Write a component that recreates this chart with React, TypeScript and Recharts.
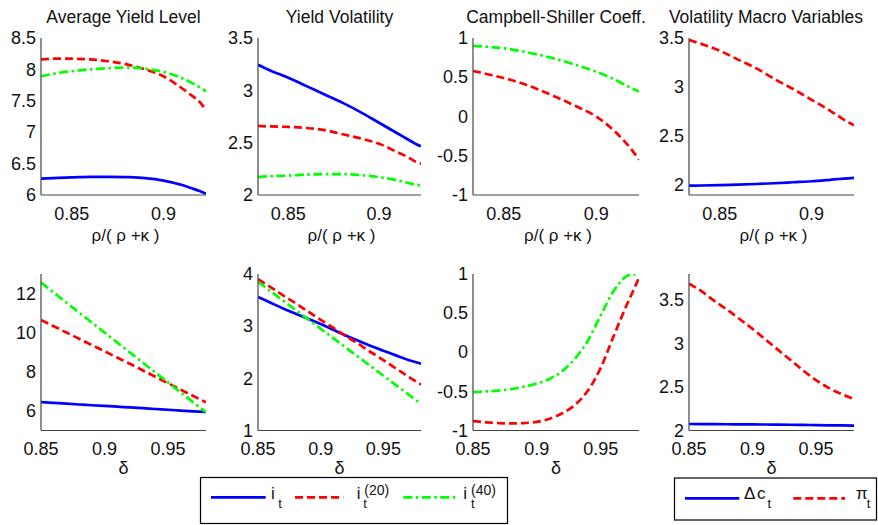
import React from 'react';
import { LineChart, Line, XAxis, YAxis } from 'recharts';

// ---------------- data ----------------
// top row: x = rho/(rho+kappa)
const rhoRatio = [0.8333, 0.84, 0.85, 0.86, 0.87, 0.88, 0.89, 0.9, 0.91, 0.915, 0.92, 0.9231];
const avgYieldI = [6.26, 6.27, 6.28, 6.29, 6.29, 6.285, 6.27, 6.23, 6.16, 6.11, 6.06, 6.02];
const avgYieldI20 = [8.16, 8.17, 8.17, 8.16, 8.13, 8.08, 8.0, 7.89, 7.7, 7.59, 7.47, 7.35];
const avgYieldI40 = [7.89, 7.93, 7.97, 8.0, 8.02, 8.03, 8.01, 7.96, 7.86, 7.79, 7.71, 7.65];
const volYieldI = [3.245, 3.19, 3.12, 3.04, 2.96, 2.88, 2.79, 2.69, 2.59, 2.54, 2.49, 2.465];
const volYieldI20 = [2.66, 2.655, 2.65, 2.64, 2.62, 2.58, 2.54, 2.49, 2.41, 2.37, 2.32, 2.3];
const volYieldI40 = [2.17, 2.18, 2.185, 2.195, 2.2, 2.2, 2.19, 2.17, 2.14, 2.12, 2.1, 2.09];
const csI20 = [0.58, 0.545, 0.49, 0.42, 0.33, 0.23, 0.12, 0.0, -0.19, -0.31, -0.45, -0.55];
const csI40 = [0.9, 0.89, 0.87, 0.83, 0.78, 0.72, 0.65, 0.57, 0.47, 0.41, 0.35, 0.32];
const macroDc = [1.995, 1.997, 2.0, 2.005, 2.012, 2.02, 2.03, 2.04, 2.055, 2.063, 2.07, 2.075];
const macroPi = [3.48, 3.44, 3.37, 3.28, 3.19, 3.08, 2.98, 2.87, 2.76, 2.7, 2.64, 2.61];

// bottom row: x = delta
const delta = [0.85, 0.86, 0.87, 0.88, 0.89, 0.9, 0.91, 0.92, 0.93, 0.94, 0.95, 0.96, 0.97, 0.98];
const avgYieldDI = [6.45, 6.41, 6.37, 6.33, 6.29, 6.26, 6.22, 6.18, 6.14, 6.1, 6.06, 6.02, 5.98, 5.95];
const avgYieldDI20 = [10.65, 10.33, 10.01, 9.69, 9.37, 9.05, 8.73, 8.41, 8.08, 7.75, 7.42, 7.09, 6.76, 6.44];
const avgYieldDI40 = [12.56, 12.05, 11.54, 11.03, 10.52, 10.01, 9.5, 8.99, 8.48, 7.97, 7.46, 6.95, 6.44, 5.93];
const volYieldDI = [3.56, 3.45, 3.34, 3.24, 3.14, 3.04, 2.93, 2.82, 2.72, 2.62, 2.53, 2.44, 2.35, 2.28];
const volYieldDI20 = [3.9, 3.75, 3.59, 3.44, 3.28, 3.12, 2.97, 2.81, 2.66, 2.5, 2.35, 2.19, 2.03, 1.88];
const volYieldDI40 = [3.85, 3.67, 3.49, 3.31, 3.13, 2.95, 2.77, 2.59, 2.41, 2.23, 2.05, 1.87, 1.69, 1.51];
const deltaCS = [0.85, 0.86, 0.87, 0.88, 0.89, 0.9, 0.91, 0.92, 0.93, 0.94, 0.95, 0.96, 0.97, 0.975, 0.98];
const csDI20 = [-0.88, -0.895, -0.905, -0.91, -0.905, -0.89, -0.85, -0.78, -0.67, -0.49, -0.2, 0.2, 0.59, 0.77, 0.95];
const csDI40 = [-0.51, -0.5, -0.49, -0.47, -0.44, -0.4, -0.34, -0.24, -0.08, 0.15, 0.47, 0.78, 0.97, 1.0, 0.985];
const macroDDc = [2.075, 2.074, 2.073, 2.072, 2.071, 2.07, 2.069, 2.067, 2.066, 2.064, 2.062, 2.06, 2.058, 2.057];
const macroDPi = [3.69, 3.6, 3.49, 3.39, 3.28, 3.17, 3.05, 2.93, 2.81, 2.69, 2.58, 2.49, 2.42, 2.36];

// axis ticks
const rhoTicks = [0.85, 0.9];
const deltaTicks = [0.85, 0.9, 0.95];
const titles = ['Average Yield Level', 'Yield Volatility', 'Campbell-Shiller Coeff.', 'Volatility Macro Variables'];
const rhoLabel = 'ρ/( ρ +κ )';
const deltaLabel = 'δ';

// ---------------- styling ----------------
const FONT = '"Liberation Sans", Arial, Helvetica, sans-serif';
const BLUE = '#0000ff';
const RED = '#ff0000';
const GREEN = '#00ff00';
const DASH = '8 4';
const DASHDOT = '9 3.5 2.5 3.5';
const AXIS = '#444';
const TICK_FS = 18;

const STYLE: Record<string, { color: string; dash?: string }> = {
  i: { color: BLUE },
  i20: { color: RED, dash: DASH },
  i40: { color: GREEN, dash: DASHDOT },
  dc: { color: BLUE },
  pi: { color: RED, dash: DASH },
};

function table(xs: number[], cols: Record<string, number[]>) {
  return xs.map((x, k) => {
    const row: Record<string, number> = { x };
    Object.keys(cols).forEach((key) => {
      row[key] = cols[key][k];
    });
    return row;
  });
}

const COLS = [
  [41, 206],
  [258, 421],
  [473, 639],
  [689, 854],
];
const ROWS = [
  [37.5, 194.5],
  [273.5, 430],
];

type PanelCfg = {
  col: number;
  row: number;
  data: Record<string, number>[];
  keys: string[];
  xDomain: [number, number];
  xTicks: number[];
  yDomain: [number, number];
  yTicks: number[];
};

const panels: PanelCfg[] = [
  { col: 0, row: 0, data: table(rhoRatio, { i: avgYieldI, i20: avgYieldI20, i40: avgYieldI40 }), keys: ['i', 'i20', 'i40'], xDomain: [0.8333, 0.9231], xTicks: rhoTicks, yDomain: [6, 8.5], yTicks: [6, 6.5, 7, 7.5, 8, 8.5] },
  { col: 1, row: 0, data: table(rhoRatio, { i: volYieldI, i20: volYieldI20, i40: volYieldI40 }), keys: ['i', 'i20', 'i40'], xDomain: [0.8333, 0.9231], xTicks: rhoTicks, yDomain: [2, 3.5], yTicks: [2, 2.5, 3, 3.5] },
  { col: 2, row: 0, data: table(rhoRatio, { i20: csI20, i40: csI40 }), keys: ['i20', 'i40'], xDomain: [0.8333, 0.9231], xTicks: rhoTicks, yDomain: [-1, 1], yTicks: [-1, -0.5, 0, 0.5, 1] },
  { col: 3, row: 0, data: table(rhoRatio, { dc: macroDc, pi: macroPi }), keys: ['dc', 'pi'], xDomain: [0.8333, 0.9231], xTicks: rhoTicks, yDomain: [1.9, 3.5], yTicks: [2, 2.5, 3, 3.5] },
  { col: 0, row: 1, data: table(delta, { i: avgYieldDI, i20: avgYieldDI20, i40: avgYieldDI40 }), keys: ['i', 'i20', 'i40'], xDomain: [0.85, 0.98], xTicks: deltaTicks, yDomain: [5, 13], yTicks: [6, 8, 10, 12] },
  { col: 1, row: 1, data: table(delta, { i: volYieldDI, i20: volYieldDI20, i40: volYieldDI40 }), keys: ['i', 'i20', 'i40'], xDomain: [0.85, 0.98], xTicks: deltaTicks, yDomain: [1, 4], yTicks: [1, 2, 3, 4] },
  { col: 2, row: 1, data: table(deltaCS, { i20: csDI20, i40: csDI40 }), keys: ['i20', 'i40'], xDomain: [0.85, 0.98], xTicks: deltaTicks, yDomain: [-1, 1], yTicks: [-1, -0.5, 0, 0.5, 1] },
  { col: 3, row: 1, data: table(delta, { dc: macroDDc, pi: macroDPi }), keys: ['dc', 'pi'], xDomain: [0.85, 0.98], xTicks: deltaTicks, yDomain: [2, 3.8], yTicks: [2, 2.5, 3, 3.5] },
];

const YW = 45;
const MT = 12;
const MR = 12;
const XH = 30;
const MB = 4;

function XTick(props: any) {
  const { x, payload, plotBottom } = props;
  return (
    <text x={x} y={plotBottom + 24.5} textAnchor="middle" fontSize={TICK_FS} fontFamily={FONT} fill="#111">
      {String(payload.value)}
    </text>
  );
}

function YTick(props: any) {
  const { y, payload, plotLeft } = props;
  return (
    <text x={plotLeft - 5} y={y + 6.2} textAnchor="end" fontSize={TICK_FS} fontFamily={FONT} fill="#111">
      {String(payload.value)}
    </text>
  );
}

function Panel({ cfg }: { cfg: PanelCfg }) {
  const [l, r] = COLS[cfg.col];
  const [t, b] = ROWS[cfg.row];
  const left = l - YW;
  const top = t - MT;
  const width = r - left + MR;
  const height = b - t + MT + XH + MB;
  const plotBottom = b - t + MT;
  return (
    <div style={{ position: 'absolute', left, top, width, height }}>
      <LineChart width={width} height={height} data={cfg.data} margin={{ top: MT, right: MR, bottom: MB, left: 0 }}>
        <XAxis
          type="number"
          dataKey="x"
          domain={cfg.xDomain}
          ticks={cfg.xTicks}
          interval={0}
          allowDataOverflow
          height={XH}
          tickLine={false}
          axisLine={{ stroke: AXIS, strokeWidth: 1.2 }}
          tick={(p: any) => <XTick {...p} plotBottom={plotBottom} />}
        />
        <YAxis
          type="number"
          domain={cfg.yDomain}
          ticks={cfg.yTicks}
          interval={0}
          allowDataOverflow
          width={YW}
          tickLine={false}
          axisLine={{ stroke: AXIS, strokeWidth: 1.2 }}
          tick={(p: any) => <YTick {...p} plotLeft={YW} />}
        />
        {cfg.keys.map((k) => (
          <Line
            key={k}
            dataKey={k}
            type="monotone"
            stroke={STYLE[k].color}
            strokeDasharray={STYLE[k].dash}
            strokeWidth={2.7}
            dot={false}
            isAnimationActive={false}
          />
        ))}
      </LineChart>
    </div>
  );
}

function Overlay() {
  const tf = { fontFamily: FONT, fill: '#111' } as const;
  return (
    <svg width={878} height={525} style={{ position: 'absolute', left: 0, top: 0, pointerEvents: 'none' }}>
      {titles.map((tt, c) => {
        const cx = c === 3 ? 766 : (COLS[c][0] + COLS[c][1]) / 2;
        return (
          <text key={tt} x={cx} y={23.3} textAnchor="middle" fontSize={17.5} {...tf}>
            {tt}
          </text>
        );
      })}
      {COLS.map((cc, c) => (
        <text key={'xl' + c} x={(cc[0] + cc[1]) / 2 + 2} y={241.4} textAnchor="middle" fontSize={17} {...tf}>
          {rhoLabel}
        </text>
      ))}
      {COLS.map((cc, c) => (
        <text key={'xd' + c} x={(cc[0] + cc[1]) / 2} y={474} textAnchor="middle" fontSize={18} {...tf}>
          {deltaLabel}
        </text>
      ))}

      {/* legend 1 */}
      <rect x={200.5} y={477.5} width={307} height={46} fill="#fff" stroke="#000" strokeWidth={1.2} />
      <line x1={211} x2={265.7} y1={497.3} y2={497.3} stroke={BLUE} strokeWidth={2.7} />
      <text x={271} y={499.3} fontSize={17} {...tf}>i</text>
      <text x={278.3} y={508.3} fontSize={13} {...tf}>t</text>
      <line x1={295} x2={343.3} y1={497.3} y2={497.3} stroke={RED} strokeWidth={2.7} strokeDasharray={DASH} />
      <text x={356.7} y={499.3} fontSize={17} {...tf}>i</text>
      <text x={363.3} y={508.3} fontSize={13} {...tf}>t</text>
      <text x={364.3} y={495} fontSize={14} {...tf}>(20)</text>
      <line x1={403.3} x2={458.3} y1={497.3} y2={497.3} stroke={GREEN} strokeWidth={2.7} strokeDasharray={DASHDOT} />
      <text x={463.3} y={499.3} fontSize={17} {...tf}>i</text>
      <text x={471} y={508.3} fontSize={13} {...tf}>t</text>
      <text x={471} y={495} fontSize={14} {...tf}>(40)</text>

      {/* legend 2 */}
      <rect x={674.5} y={478} width={202} height={42} fill="#fff" stroke="#000" strokeWidth={1.2} />
      <line x1={685} x2={739.3} y1={498.3} y2={498.3} stroke={BLUE} strokeWidth={2.7} />
      <text x={744} y={499.3} fontSize={17} {...tf}>Δ</text>
      <text x={757} y={499.3} fontSize={17} {...tf}>c</text>
      <text x={767.5} y={508.3} fontSize={13} {...tf}>t</text>
      <line x1={793.3} x2={845} y1={498.3} y2={498.3} stroke={RED} strokeWidth={2.7} strokeDasharray={DASH} />
      <text x={856} y={499.3} fontSize={17} {...tf}>π</text>
      <text x={866.7} y={508.3} fontSize={13} {...tf}>t</text>
    </svg>
  );
}

export default function App() {
  return (
    <div style={{ position: 'absolute', left: 0, top: 0, width: 878, height: 525, background: '#fff', overflow: 'hidden' }}>
      {panels.map((p, k) => (
        <Panel key={k} cfg={p} />
      ))}
      <Overlay />
    </div>
  );
}
